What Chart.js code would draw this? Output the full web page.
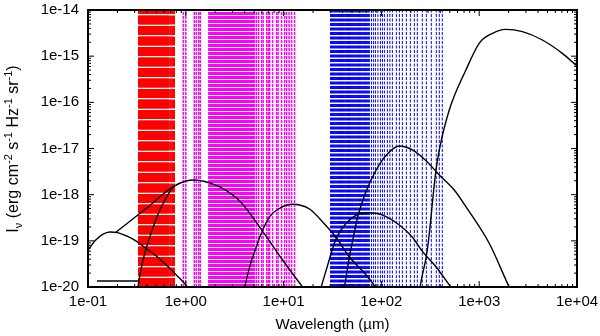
<!DOCTYPE html>
<html><head><meta charset="utf-8">
<script src="https://cdn.jsdelivr.net/npm/chart.js"></script>
<style>html,body{margin:0;padding:0;background:#fff;}canvas{display:block;}</style>
</head><body>
<canvas id="c" width="600" height="336"></canvas>
<script>
// ---- axis ticks ----
const xTickValues = [0.1, 1, 10, 100, 1000, 10000];
const xTickLabels = ['1e-01', '1e+00', '1e+01', '1e+02', '1e+03', '1e+04'];
const yTickValues = [1e-20, 1e-19, 1e-18, 1e-17, 1e-16, 1e-15, 1e-14];
const yTickLabels = ['1e-20', '1e-19', '1e-18', '1e-17', '1e-16', '1e-15', '1e-14'];

// ---- band wavelengths (micron), drawn as vertical dashed lines ----
const redLines = [0.332, 0.339, 0.347, 0.356, 0.364, 0.372, 0.382, 0.391, 0.400, 0.409, 0.419, 0.429, 0.439, 0.450, 0.461, 0.472, 0.483, 0.494, 0.506, 0.518, 0.530, 0.543, 0.556, 0.569, 0.583, 0.596, 0.611, 0.625, 0.640, 0.655, 0.671, 0.700, 0.728, 0.757];
const magentaLines = [0.943, 1.000, 1.221, 1.280, 1.357, 1.406, 1.72, 1.76, 1.80, 1.84, 1.89, 1.93, 1.98, 2.02, 2.07, 2.12, 2.17, 2.22, 2.28, 2.33, 2.39, 2.44, 2.50, 2.56, 2.62, 2.68, 2.75, 2.81, 2.88, 2.95, 3.02, 3.09, 3.16, 3.24, 3.31, 3.39, 3.47, 3.56, 3.64, 3.73, 3.82, 3.91, 4.00, 4.10, 4.19, 4.29, 4.40, 4.50, 4.61, 4.72, 4.83, 4.94, 5.06, 5.30, 5.56, 5.97, 6.18, 6.71, 6.95, 7.20, 7.72, 8.48, 8.79, 9.54, 10.24, 10.73, 11.38, 12.07, 12.95];
const blueLines = [30.2, 30.9, 31.6, 32.4, 33.1, 33.9, 34.7, 35.6, 36.4, 37.3, 38.2, 39.1, 40.0, 41.0, 41.9, 42.9, 44.0, 45.0, 46.1, 47.2, 48.3, 49.4, 50.6, 51.8, 53.0, 54.3, 55.6, 56.9, 58.3, 59.7, 61.1, 62.5, 64.0, 65.5, 67.1, 68.7, 70.3, 72.0, 73.7, 75.4, 79.1, 82.9, 86.9, 92.1, 97.7, 102.4, 107.3, 115.1, 122.1, 129.5, 142.2, 152.7, 163.8, 179.9, 197.7, 217.1, 233.0, 262.0, 287.9, 323.7, 364.1, 390.7, 419.3];

// ---- SED curves: wavelength (micron) and intensity ----
const curveA_lambda = [0.1, 0.12, 0.14, 0.168, 0.2, 0.25, 0.3, 0.4, 0.5, 0.6, 0.7, 0.8, 0.9, 1.0, 1.08];
const curveA_value  = [6.3e-20, 1.04e-19, 1.37e-19, 1.55e-19, 1.51e-19, 1.27e-19, 1.04e-19, 6.65e-20, 4.69e-20, 3.31e-20, 2.45e-20, 1.82e-20, 1.42e-20, 1.10e-20, 8.6e-21];

const curveB_lambda = [0.19, 0.3815, 0.737, 1.0, 1.235, 1.563, 2.223, 3.556, 5.965, 9.768, 15.63, 18.42];
const curveB_value  = [1.5e-19, 4.77e-19, 1.47e-18, 1.98e-18, 2.08e-18, 1.93e-18, 1.47e-18, 7.30e-19, 1.72e-19, 3.85e-20, 1.0e-20, 6.4e-21];

const curveC_lambda = [0.3162, 0.3237, 0.3474, 0.3815, 0.4292, 0.5059, 0.6106, 0.737];
const curveC_value  = [7.8e-21, 1.0e-20, 2.33e-20, 5.45e-20, 1.21e-19, 3.28e-19, 7.65e-19, 1.47e-18];

const floor_lambda = [0.1235, 0.506];
const floor_value  = [1.35e-20, 1.35e-20];

const curveD_lambda = [3.816, 4.0, 4.50, 5.266, 5.922, 7.197, 9.10, 12.36, 14.56, 18.42, 26.2, 34.74, 47.16, 67.08, 86.85, 95.4];
const curveD_value  = [6.7e-21, 1.0e-20, 2.75e-20, 7.46e-20, 1.46e-19, 3.33e-19, 5.07e-19, 6.18e-19, 5.97e-19, 4.89e-19, 2.32e-19, 1.15e-19, 4.47e-20, 2.01e-20, 1.0e-20, 7.4e-21];

const curveE_lambda = [22.8, 24.25, 27.28, 34.5, 43.64, 55.19, 72.47, 103.1, 152.7, 208.6, 263.9, 361.5, 514.2, 568.9];
const curveE_value  = [6.7e-21, 1.02e-20, 2.33e-20, 1.13e-19, 2.40e-19, 3.62e-19, 4.06e-19, 3.62e-19, 2.20e-19, 1.18e-19, 5.82e-20, 2.75e-20, 1.0e-20, 7.8e-21];

const curveG_lambda = [40.46, 41.93, 47.16, 51.8, 57.3, 68.68, 88.3, 115.1, 152.7, 208.6, 281.2, 390.7, 555.9, 731.2, 1265, 2024, 2172];
const curveG_value  = [6.4e-21, 1.0e-20, 4.53e-20, 1.23e-19, 3.33e-19, 1.09e-18, 3.42e-18, 7.60e-18, 1.13e-17, 9.27e-18, 5.64e-18, 2.67e-18, 1.26e-18, 5.48e-19, 8.85e-20, 1.0e-20, 7.4e-21];

const curveH_lambda = [241.4, 248.3, 294.7, 361.5, 390.7, 494.3, 731.2, 1000, 1367, 1873, 2765, 4424, 7080, 10000];
const curveH_value  = [6.4e-21, 1.0e-20, 6.32e-20, 3.42e-18, 9.27e-18, 6.83e-17, 5.01e-16, 1.90e-15, 3.13e-15, 3.81e-15, 3.39e-15, 2.24e-15, 1.15e-15, 6.1e-16];

// ---- build datasets ----
const yLo = yTickValues[0], yHi = yTickValues[yTickValues.length - 1];
const datasets = [];
function curve(lams, vals, extra) {
  return Object.assign({
    data: lams.map((x, i) => ({x: x, y: vals[i]})),
    borderColor: '#000', borderWidth: 1.4, pointRadius: 0,
    cubicInterpolationMode: 'monotone', fill: false, clip: 0, order: 0
  }, extra || {});
}
[[curveA_lambda, curveA_value], [curveB_lambda, curveB_value], [curveC_lambda, curveC_value],
 [curveD_lambda, curveD_value], [curveE_lambda, curveE_value], [curveG_lambda, curveG_value],
 [curveH_lambda, curveH_value]].forEach(p => datasets.push(curve(p[0], p[1])));
datasets.push(curve(floor_lambda, floor_value, {order: 5, borderWidth: 1.3, cubicInterpolationMode: 'default', tension: 0}));

function vlines(list, color, dash, width) {
  list.forEach(l => datasets.push({
    data: [{x: l, y: yLo}, {x: l, y: yHi}],
    borderColor: color, borderWidth: width, borderDash: dash, pointRadius: 0,
    fill: false, clip: 0, order: 2, tension: 0
  }));
}
vlines(redLines, '#ff0000', [9, 1.5], 2);
vlines(magentaLines, '#ff00ff', [3, 1], 1.5);
vlines(blueLines, '#0000ff', [3, 1.5], 1);

const FONT = 'Liberation Sans, Arial, Helvetica, sans-serif';

const framePlugin = {
  id: 'frame',
  afterDatasetsDraw(chart) {
    const {ctx, chartArea: a, scales} = chart;
    const xs = scales.x, ys = scales.y;
    const mult = [2, 3, 4, 5, 6, 7, 8, 9];
    ctx.save();
    ctx.strokeStyle = '#000';
    ctx.lineWidth = 1;
    ctx.beginPath();
    xTickValues.forEach((t, i) => {
      const px = xs.getPixelForValue(t);
      ctx.moveTo(px, a.bottom); ctx.lineTo(px, a.bottom - 6);
      ctx.moveTo(px, a.top); ctx.lineTo(px, a.top + 6);
      if (i < xTickValues.length - 1) mult.forEach(m => {
        const q = xs.getPixelForValue(t * m);
        ctx.moveTo(q, a.bottom); ctx.lineTo(q, a.bottom - 3);
        ctx.moveTo(q, a.top); ctx.lineTo(q, a.top + 3);
      });
    });
    yTickValues.forEach((t, i) => {
      const py = ys.getPixelForValue(t);
      ctx.moveTo(a.left, py); ctx.lineTo(a.left + 6, py);
      ctx.moveTo(a.right, py); ctx.lineTo(a.right - 6, py);
      if (i < yTickValues.length - 1) mult.forEach(m => {
        const q = ys.getPixelForValue(t * m);
        ctx.moveTo(a.left, q); ctx.lineTo(a.left + 3, q);
        ctx.moveTo(a.right, q); ctx.lineTo(a.right - 3, q);
      });
    });
    ctx.stroke();
    ctx.lineWidth = 2;
    ctx.strokeRect(a.left, a.top, a.right - a.left, a.bottom - a.top);
    ctx.restore();
  },
  afterDraw(chart) {
    const ctx = chart.ctx;
    const big = 16, small = 11;
    const parts = [
      {t: 'I', s: big, dy: 0}, {t: 'ν', s: small, dy: 4},
      {t: ' (erg cm', s: big, dy: 0}, {t: '-2', s: small, dy: -6},
      {t: ' s', s: big, dy: 0}, {t: '-1', s: small, dy: -6},
      {t: ' Hz', s: big, dy: 0}, {t: '-1', s: small, dy: -6},
      {t: ' sr', s: big, dy: 0}, {t: '-1', s: small, dy: -6},
      {t: ')', s: big, dy: 0}
    ];
    ctx.save();
    let total = 0;
    parts.forEach(p => { ctx.font = p.s + 'px ' + FONT; p.w = ctx.measureText(p.t).width; total += p.w; });
    ctx.translate(18, 149);
    ctx.rotate(-Math.PI / 2);
    ctx.fillStyle = '#000';
    ctx.textBaseline = 'alphabetic';
    ctx.textAlign = 'left';
    let cx = -total / 2;
    parts.forEach(p => { ctx.font = p.s + 'px ' + FONT; ctx.fillText(p.t, cx, p.dy); cx += p.w; });
    ctx.restore();
  }
};

new Chart(document.getElementById('c'), {
  type: 'line',
  data: {datasets: datasets},
  options: {
    responsive: false, animation: false, devicePixelRatio: 1,
    layout: {padding: {top: 10, right: 23, left: 0, bottom: 0}},
    plugins: {legend: {display: false}, tooltip: {enabled: false}},
    elements: {line: {borderCapStyle: 'butt'}},
    scales: {
      x: {
        type: 'logarithmic', position: 'bottom',
        min: xTickValues[0], max: xTickValues[xTickValues.length - 1],
        afterBuildTicks: s => { s.ticks = xTickValues.map(v => ({value: v})); },
        afterFit: s => { s.height = 49; s.paddingLeft = 0; s.paddingRight = 0; },
        ticks: {callback: (v, i) => xTickLabels[i], color: '#000', font: {family: FONT, size: 15}, padding: 6, maxRotation: 0, autoSkip: false},
        grid: {display: false, drawTicks: false}, border: {display: false},
        title: {display: true, text: 'Wavelength (µm)', color: '#000', font: {family: FONT, size: 15}, padding: {top: 0, bottom: 2}}
      },
      y: {
        type: 'logarithmic', position: 'left',
        min: yLo, max: yHi,
        afterBuildTicks: s => { s.ticks = yTickValues.map(v => ({value: v})); },
        afterFit: s => { s.width = 88; s.paddingTop = 0; s.paddingBottom = 0; },
        ticks: {callback: (v, i) => yTickLabels[i], color: '#000', font: {family: FONT, size: 15}, padding: 9, autoSkip: false},
        grid: {display: false, drawTicks: false}, border: {display: false}
      }
    }
  },
  plugins: [framePlugin]
});
</script>
</body></html>
